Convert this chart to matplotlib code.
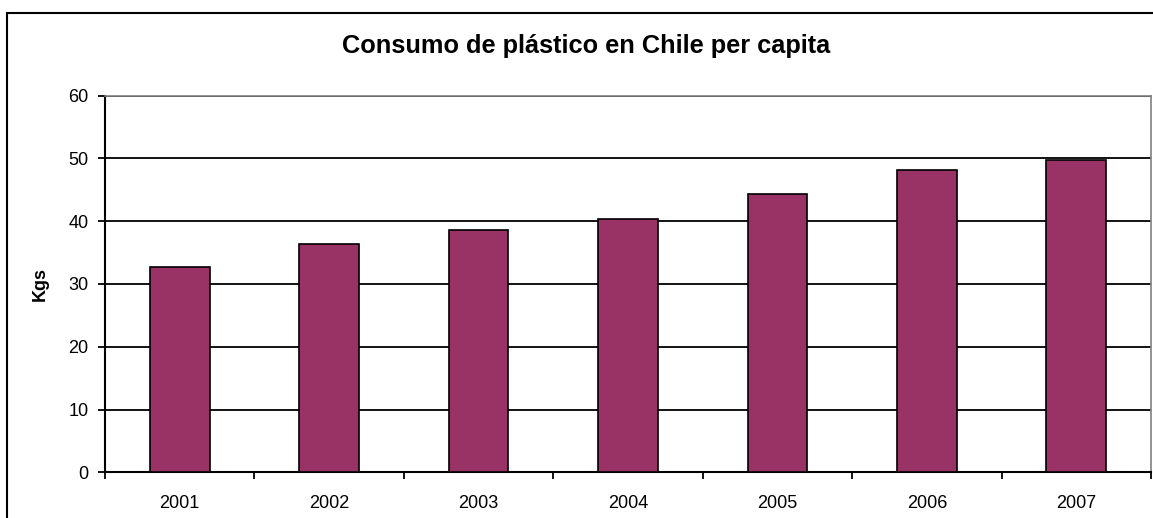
import matplotlib.pyplot as plt
from matplotlib.patches import Rectangle

# Consumo per capita (kg) por año
years = ['2001', '2002', '2003', '2004', '2005', '2006', '2007']
kgs = [32.7, 36.4, 38.6, 40.3, 44.4, 48.2, 49.8]
y_ticks = [0, 10, 20, 30, 40, 50, 60]

plt.rcParams['font.family'] = ['Liberation Sans', 'DejaVu Sans']

W, H = 1153, 518
fig = plt.figure(figsize=(W / 100, H / 100), dpi=100)

# marco exterior del gráfico
fig.patches.append(Rectangle((7 / W, -0.2), 1.2, 1.2 - 13 / H,
                             transform=fig.transFigure, fill=False,
                             edgecolor='black', linewidth=1.5))

ax = fig.add_axes([105 / W, 45.7 / H, (1151 - 105) / W, (472.3 - 95.7) / H])

x = range(len(years))
ax.bar(x, kgs, width=0.4, color='#993366', edgecolor='black', linewidth=1.2, zorder=3)

ax.set_xlim(-0.5, len(years) - 0.5)
ax.set_ylim(0, 60)
ax.set_yticks(y_ticks)
ax.set_yticklabels([str(v) for v in y_ticks], fontsize=13)
ax.set_xticks(list(x))
ax.set_xticklabels(years, fontsize=13)
ax.set_xticks([i - 0.5 for i in range(len(years) + 1)], minor=True)

ax.grid(axis='y', color='black', linewidth=1.3, zorder=0)
ax.tick_params(axis='x', which='major', length=0, pad=16)
ax.tick_params(axis='x', which='minor', length=5, width=1.3, direction='out')
ax.tick_params(axis='y', length=5, width=1.3, direction='out', pad=7)

for side in ['left', 'bottom']:
    ax.spines[side].set_linewidth(1.5)
    ax.spines[side].set_color('black')
for side in ['top', 'right']:
    ax.spines[side].set_linewidth(1.2)
    ax.spines[side].set_color('#808080')

ax.set_ylabel('Kgs', fontsize=13, fontweight='bold', labelpad=14)
fig.text(586 / W, 1 - 53.5 / H, 'Consumo de plástico en Chile per capita',
         ha='center', va='baseline', fontsize=18.3, fontweight='bold')

fig.savefig('out.png', dpi=100)
